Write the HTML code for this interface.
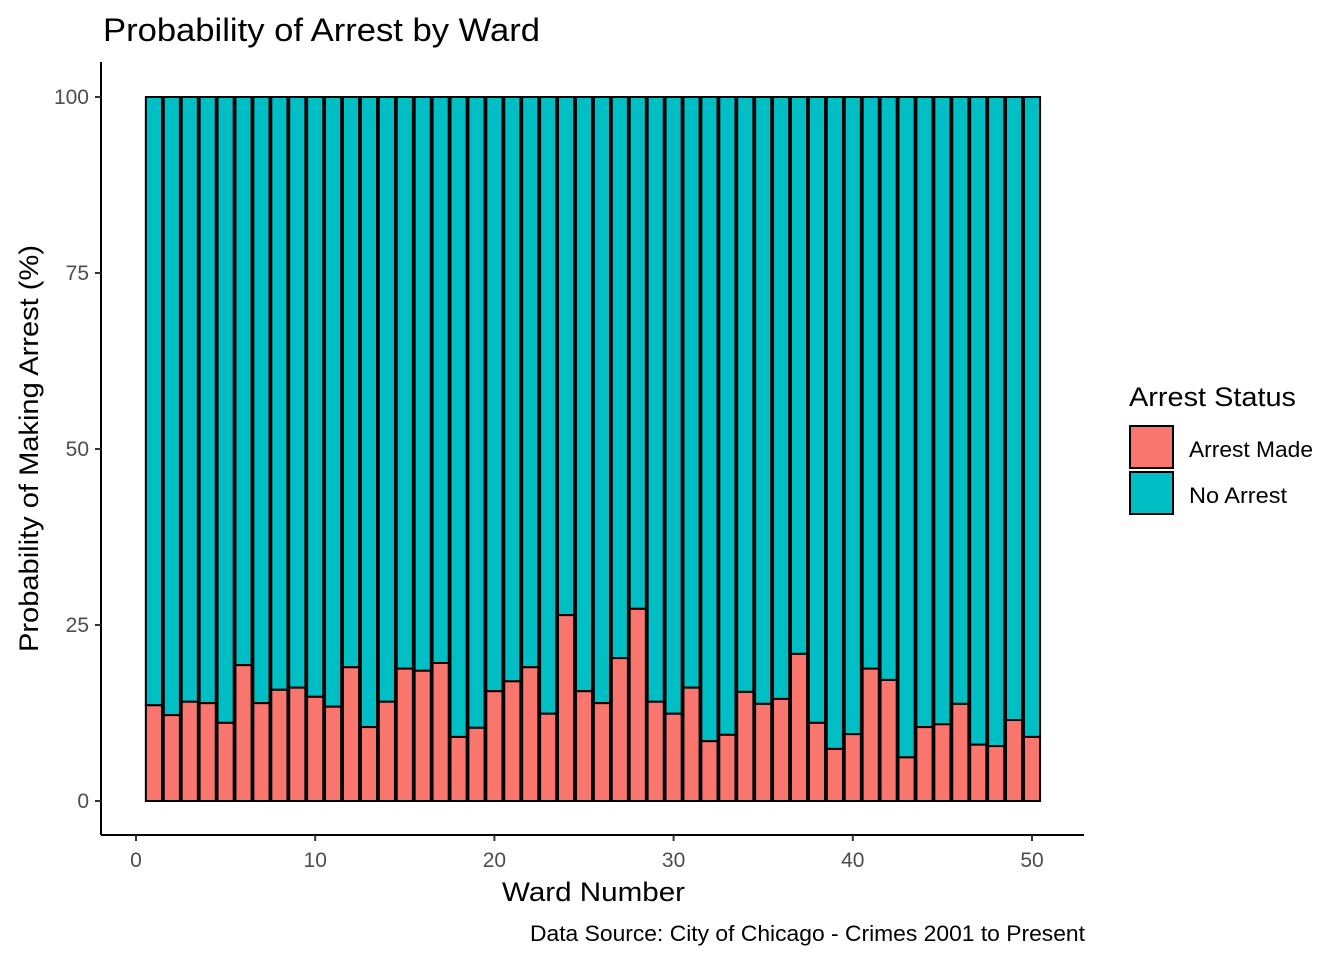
<!DOCTYPE html>
<html><head><meta charset="utf-8"><style>
body{margin:0;background:#fff;font-family:"Liberation Sans",Arial,sans-serif}
svg text{font-family:"Liberation Sans",Arial,sans-serif}
</style></head><body>
<svg id="chart" width="1344" height="960">
<text x="103" y="41" font-size="32" fill="#000" textLength="437" lengthAdjust="spacingAndGlyphs">Probability of Arrest by Ward</text>
<g id="bars"></g>
<line x1="101" y1="62" x2="101" y2="835" stroke="#000" stroke-width="2"/>
<line x1="101" y1="835" x2="1084" y2="835" stroke="#000" stroke-width="2"/>
<g id="yticks"></g>
<g id="xticks"></g>
<text x="502" y="901" font-size="27" textLength="183" lengthAdjust="spacingAndGlyphs">Ward Number</text>
<text transform="translate(38,652) rotate(-90)" font-size="27" textLength="407" lengthAdjust="spacingAndGlyphs">Probability of Making Arrest (%)</text>
<text x="530" y="941" font-size="22" textLength="555" lengthAdjust="spacingAndGlyphs">Data Source: City of Chicago - Crimes 2001 to Present</text>
<g>
<text x="1129" y="406" font-size="27" textLength="167" lengthAdjust="spacingAndGlyphs">Arrest Status</text>
<rect x="1130" y="426" width="43" height="42" fill="#F8766D" stroke="#000" stroke-width="2"/>
<text x="1189" y="457" font-size="22" textLength="124" lengthAdjust="spacingAndGlyphs">Arrest Made</text>
<rect x="1130" y="472" width="43" height="42" fill="#00BFC4" stroke="#000" stroke-width="2"/>
<text x="1189" y="503" font-size="22" textLength="98" lengthAdjust="spacingAndGlyphs">No Arrest</text>
</g>
</svg>
<script>
const wards=[1,2,3,4,5,6,7,8,9,10,11,12,13,14,15,16,17,18,19,20,21,22,23,24,25,26,27,28,29,30,31,32,33,34,35,36,37,38,39,40,41,42,43,44,45,46,47,48,49,50];
const arrestPct=[13.6,12.2,14.1,13.9,11.1,19.3,13.9,15.8,16.1,14.8,13.4,19.0,10.5,14.1,18.8,18.5,19.6,9.1,10.4,15.6,17.0,19.0,12.4,26.4,15.6,13.9,20.3,27.3,14.1,12.4,16.1,8.5,9.4,15.5,13.8,14.5,20.9,11.1,7.4,9.5,18.8,17.2,6.2,10.5,10.9,13.8,8.0,7.8,11.5,9.1];
const yTicks=[0,25,50,75,100];
const xTicks=[0,10,20,30,40,50];
const NS="http://www.w3.org/2000/svg";
const xs=v=>136+v*17.92;
const ys=v=>801-v*7.04;
const bw=0.9*17.92;
const bars=document.getElementById('bars');
function mk(t,a){const e=document.createElementNS(NS,t);for(const k in a)e.setAttribute(k,a[k]);return e;}
wards.forEach((w,i)=>{
 const p=arrestPct[i];
 const top=mk('rect',{x:xs(w)-bw/2,y:ys(100),width:bw,height:ys(p)-ys(100),fill:'#00BFC4',stroke:'#000','stroke-width':2});
 
 
 bars.appendChild(top);
 const bot=mk('rect',{x:xs(w)-bw/2,y:ys(p),width:bw,height:ys(0)-ys(p),fill:'#F8766D',stroke:'#000','stroke-width':2});
 
 
 bars.appendChild(bot);
});
const yt=document.getElementById('yticks');
yTicks.forEach(v=>{
 const l=mk('line',{x1:95,x2:101,y1:ys(v),y2:ys(v),stroke:'#333','stroke-width':2});
 
 
 yt.appendChild(l);
 const t=mk('text',{x:89,y:ys(v)+7,'font-size':21,'text-anchor':'end',fill:'#4d4d4d'});
 t.textContent=v;
 
 
 yt.appendChild(t);
});
const xt=document.getElementById('xticks');
xTicks.forEach(v=>{
 const l=mk('line',{x1:xs(v),x2:xs(v),y1:835,y2:841,stroke:'#333','stroke-width':2});
 
 
 xt.appendChild(l);
 const t=mk('text',{x:xs(v),y:867,'font-size':21,'text-anchor':'middle',fill:'#4d4d4d'});
 t.textContent=v;
 
 
 xt.appendChild(t);
});
</script>
</body></html>
